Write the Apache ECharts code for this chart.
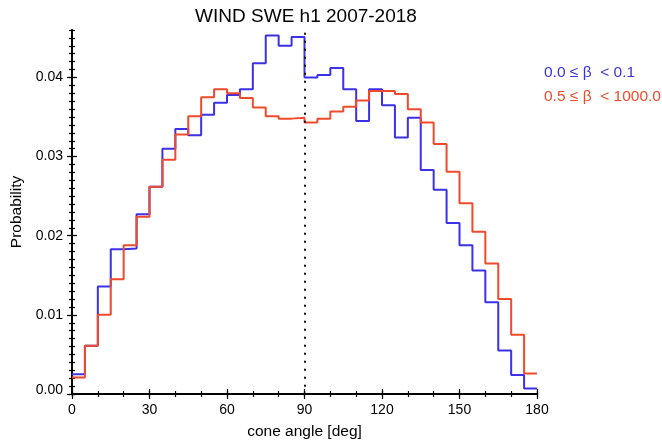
<!DOCTYPE html>
<html>
<head>
<meta charset="utf-8">
<script src="https://cdn.jsdelivr.net/npm/echarts@6/dist/echarts.min.js"></script>
<style>
  html, body { margin: 0; padding: 0; background: #fff; }
  #chart { width: 662px; height: 445px; }
</style>
</head>
<body>
<div id="chart"></div>
<script>
// Cone angle histogram, 5-degree bins (left edges)
const binStarts = [0, 5, 10, 15, 20, 25, 30, 35, 40, 45, 50, 55, 60, 65, 70, 75, 80, 85,
                   90, 95, 100, 105, 110, 115, 120, 125, 130, 135, 140, 145, 150, 155, 160, 165, 170, 175];
const binEnd = 180;

// Probability per bin, low plasma beta (0.0 <= beta < 0.1)
const probLowBeta = [0.0025, 0.0061, 0.0136, 0.0183, 0.0184, 0.0227, 0.0262, 0.0310, 0.0335, 0.0327,
                     0.0353, 0.0368, 0.0378, 0.0385, 0.0418, 0.0453, 0.0440, 0.0451,
                     0.0400, 0.0403, 0.0412, 0.0385, 0.0345, 0.0385, 0.0365, 0.0324, 0.0349, 0.0283,
                     0.0258, 0.0216, 0.0188, 0.0156, 0.0116, 0.0055, 0.0024, 0.0007];

// Probability per bin, high plasma beta (0.5 <= beta < 1000.0)
const probHighBeta = [0.0021, 0.0061, 0.0100, 0.0145, 0.0188, 0.0224, 0.0262, 0.0296, 0.0328, 0.0351,
                      0.0375, 0.0385, 0.0380, 0.0374, 0.0362, 0.0351, 0.0348, 0.0349,
                      0.0343, 0.0348, 0.0357, 0.0363, 0.0371, 0.0383, 0.0383, 0.0379, 0.0360, 0.0343,
                      0.0316, 0.0281, 0.0241, 0.0205, 0.0165, 0.0120, 0.0075, 0.0026];

const xMajorTicks = [0, 30, 60, 90, 120, 150, 180];
const yMajorTicks = [0, 0.01, 0.02, 0.03, 0.04];
const legendLabels = ['0.0 \u2264 \u03b2  < 0.1', '0.5 \u2264 \u03b2  < 1000.0'];
const titleText = 'WIND SWE h1 2007-2018';
const xTitle = 'cone angle [deg]';
const yTitle = 'Probability';
const medianAngle = 90;

const BLUE = '#3b31e6';
const RED = '#f04a2c';
const FONT = '"Liberation Sans", Arial, Helvetica, sans-serif';

const Y_MAX = 0.046;
const yMinorTicks = [];
for (let k = 0; k <= 46; k++) yMinorTicks.push(+(k * 0.001).toFixed(3));
const xMinorTicks = [];
for (let k = 0; k <= 18; k++) xMinorTicks.push(k * 10);

// Step outline: each bin is held from its left edge to the next edge
function stepPoints(values) {
  const pts = binStarts.map((x, i) => [x, values[i]]);
  pts.push([binEnd, values[values.length - 1]]);
  return pts;
}

const axisLineStyle = { color: '#000', width: 1.5 };

function xAxisDef(position, ticks, tickLen, withLabels) {
  return {
    type: 'value', position: position, min: 0, max: 180, interval: 10,
    axisLine: { show: true, lineStyle: axisLineStyle },
    axisTick: { show: true, length: tickLen, inside: false, customValues: ticks,
                lineStyle: { color: '#000', width: 1.2 } },
    axisLabel: withLabels ? { show: true, customValues: ticks, color: '#000', fontSize: 14,
                              fontFamily: FONT, margin: 9 } : { show: false },
    splitLine: { show: false }
  };
}

function yAxisDef(position, ticks, tickLen, withLabels) {
  return {
    type: 'value', position: position, min: 0, max: Y_MAX, interval: 0.001,
    axisLine: { show: true, lineStyle: axisLineStyle },
    axisTick: { show: true, length: tickLen, inside: false, customValues: ticks,
                lineStyle: { color: '#000', width: 1.2 } },
    axisLabel: withLabels ? {
      show: true, customValues: ticks, color: '#000', fontSize: 14, fontFamily: FONT, margin: 9,
      formatter: v => (v === 0 ? '{z|0.00}' : v.toFixed(2)),
      rich: { z: { fontSize: 14, fontFamily: FONT, color: '#000', padding: [0, 0, 8, 0] } }
    } : { show: false },
    splitLine: { show: false }
  };
}

const chart = echarts.init(document.getElementById('chart'), null, { renderer: 'canvas' });

chart.setOption({
  animation: false,
  backgroundColor: '#fff',
  grid: { left: 72, right: 125, top: 30, bottom: 47, containLabel: false },
  xAxis: [
    Object.assign(xAxisDef('bottom', xMajorTicks, 5, true), {
      name: xTitle, nameLocation: 'middle', nameGap: 30,
      nameTextStyle: { color: '#000', fontSize: 15.5, fontFamily: FONT }
    }),
    xAxisDef('bottom', xMinorTicks, 3, false),
    xAxisDef('top', xMajorTicks, 5, false),
    xAxisDef('top', xMinorTicks, 3, false)
  ],
  yAxis: [
    Object.assign(yAxisDef('left', yMajorTicks, 5, true), {
      name: yTitle, nameLocation: 'middle', nameGap: 47, nameRotate: 90,
      nameTextStyle: { color: '#000', fontSize: 15.5, fontFamily: FONT }
    }),
    yAxisDef('left', yMinorTicks, 3, false),
    yAxisDef('right', yMajorTicks, 5, false),
    yAxisDef('right', yMinorTicks, 3, false)
  ],
  graphic: [
    { type: 'text', x: 306, y: 17,
      style: { text: titleText, fill: '#000', font: '19px ' + FONT, align: 'center', verticalAlign: 'middle' } },
    { type: 'text', x: 544, y: 73,
      style: { text: legendLabels[0], fill: BLUE, font: '15.5px ' + FONT, align: 'left', verticalAlign: 'middle' } },
    { type: 'text', x: 544, y: 97,
      style: { text: legendLabels[1], fill: RED, font: '15.5px ' + FONT, align: 'left', verticalAlign: 'middle' } }
  ],
  series: [
    {
      name: legendLabels[0], type: 'line', step: 'end', xAxisIndex: 0, yAxisIndex: 0,
      data: stepPoints(probLowBeta), showSymbol: false, symbol: 'none',
      lineStyle: { color: BLUE, width: 2 }, itemStyle: { color: BLUE }, z: 3,
      markLine: {
        silent: true, symbol: ['none', 'none'], label: { show: false },
        lineStyle: { color: '#111', width: 2, type: [0.5, 7.5], cap: 'round' },
        data: [{ xAxis: medianAngle }]
      }
    },
    {
      name: legendLabels[1], type: 'line', step: 'end', xAxisIndex: 0, yAxisIndex: 0,
      data: stepPoints(probHighBeta), showSymbol: false, symbol: 'none',
      lineStyle: { color: RED, width: 2 }, itemStyle: { color: RED }, z: 4
    }
  ]
});
</script>
</body>
</html>
